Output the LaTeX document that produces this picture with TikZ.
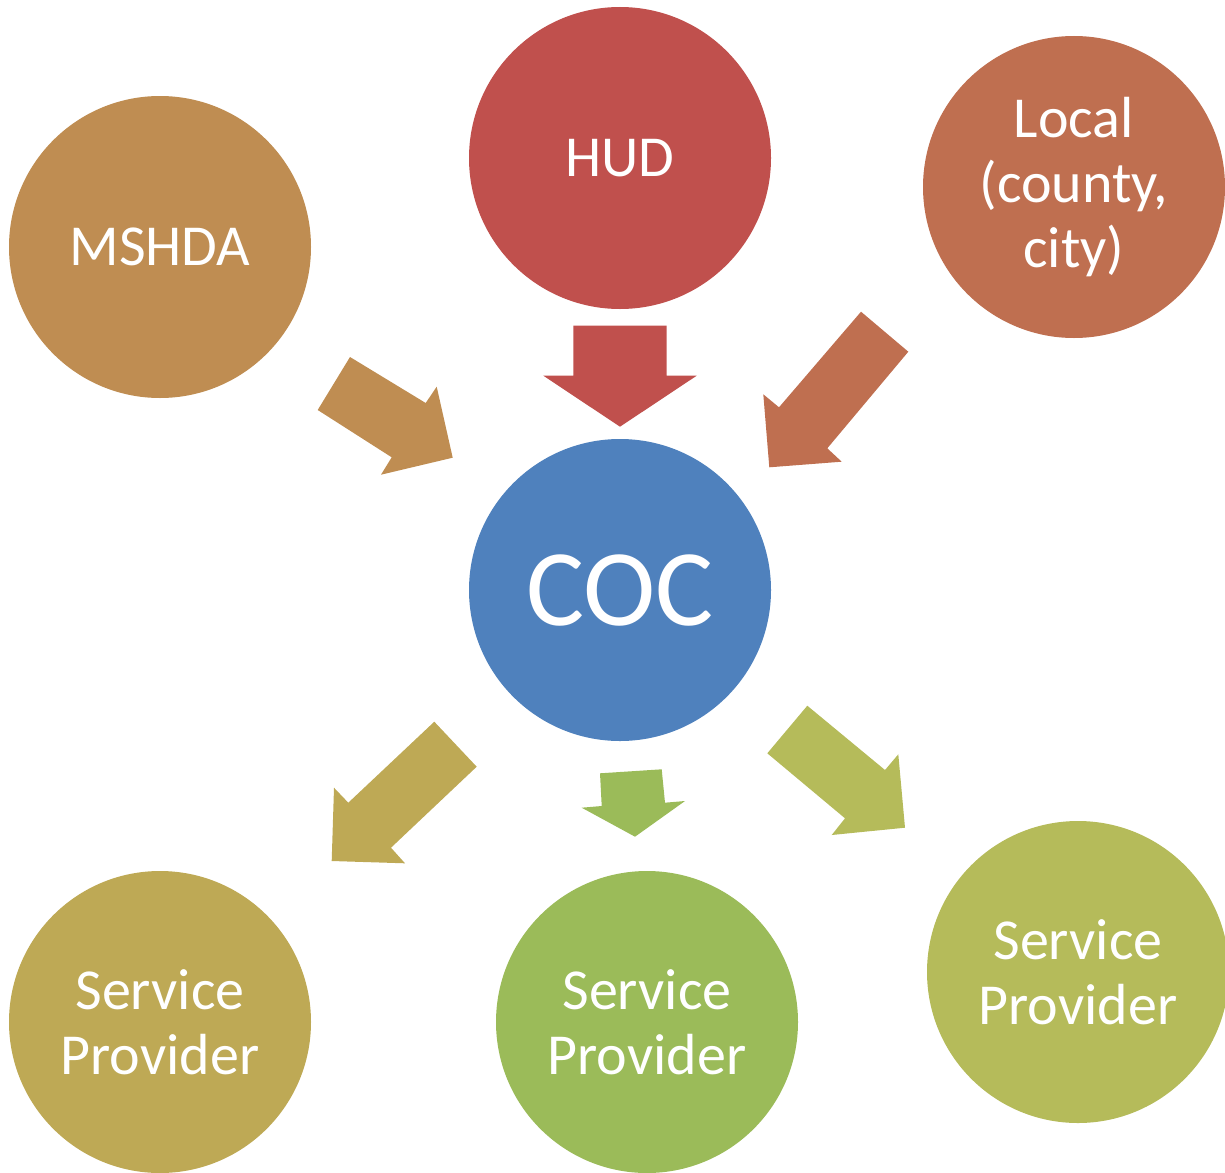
\documentclass[tikz,border=0pt]{standalone}
\usepackage{fontspec}
\setmainfont{Carlito}
\definecolor{cMSHDA}{HTML}{BF8D52}
\definecolor{cHUD}{HTML}{C0504D}
\definecolor{cLocal}{HTML}{BF6F50}
\definecolor{cCOC}{HTML}{4F81BD}
\definecolor{cSPa}{HTML}{BEA955}
\definecolor{cSPb}{HTML}{9BBB59}
\definecolor{cSPc}{HTML}{B5BB5A}
\begin{document}
\begin{tikzpicture}[x=1pt,y=-1pt,
  bubble/.style={circle,minimum size=302pt,inner sep=0pt,text=white,align=center,
    font=\fontsize{58}{65}\selectfont}]
\useasboundingbox (0,0) rectangle (1225,1172);
\node[bubble,fill=cMSHDA] (mshda) at (160,247) {MSHDA};
\node[bubble,fill=cHUD] (hud) at (620,158) {HUD};
\node[bubble,fill=cLocal] (local) at (1074,187) {Local\\(county,\\city)};
\node[bubble,fill=cCOC,font=\fontsize{109}{120}\selectfont] (coc) at (620,590) {COC};
\node[bubble,fill=cSPa] (spa) at (160,1022) {Service\\Provider};
\node[bubble,fill=cSPb] (spb) at (647,1022) {Service\\Provider};
\node[bubble,fill=cSPc] (spc) at (1078,972) {Service\\Provider};
% block arrows
\fill[cMSHDA] (350,357) -- (425.7,403) -- (436.7,386.7) -- (452.7,457.7) -- (381,474.7) -- (391.7,457.3) -- (317.7,410) -- cycle;
\fill[cHUD] (573.3,325.7) -- (666.7,325.7) -- (666.7,375.7) -- (696.7,375.7) -- (620,426.7) -- (543.3,375.7) -- (573.3,375.7) -- cycle;
\fill[cLocal] (861,311.7) -- (908.3,351.7) -- (827.3,448.3) -- (841.7,461.7) -- (769.3,467.3) -- (763.3,394.3) -- (779,407.3) -- cycle;
\fill[cSPa] (434.3,721.7) -- (476.7,766.7) -- (391,847.7) -- (405,863.3) -- (331.7,861) -- (334,787.7) -- (348.3,802.7) -- cycle;
\fill[cSPb] (600,773.3) -- (661.7,769.3) -- (665,802.7) -- (685,801) -- (635,836.7) -- (581.7,807.7) -- (601.7,806) -- cycle;
\fill[cSPc] (807.3,705.7) -- (885,770) -- (898.3,754.3) -- (905,827.7) -- (831.7,835) -- (845,818.3) -- (767.3,753.3) -- cycle;
\end{tikzpicture}
\end{document}
